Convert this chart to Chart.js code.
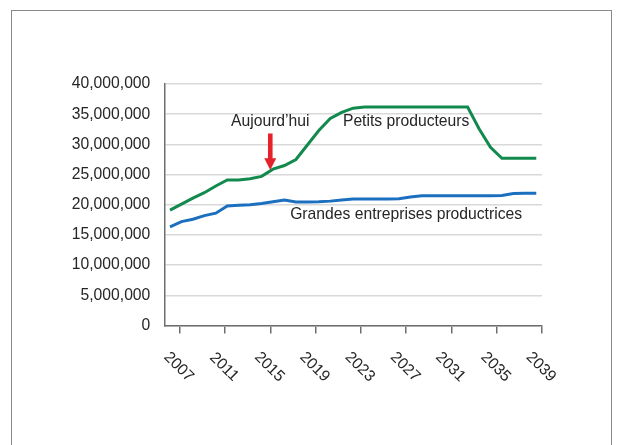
<!DOCTYPE html>
<html><head><meta charset="utf-8">
<script src="https://cdn.jsdelivr.net/npm/chart.js@4.4.1/dist/chart.umd.min.js"></script>
<style>
html,body{margin:0;padding:0;background:#fff;}
#wrap{position:relative;width:617px;height:445px;overflow:hidden;}
#frame{position:absolute;left:11px;top:10px;width:601px;height:460px;border:1.5px solid #8a8a8a;box-sizing:border-box;pointer-events:none;}
canvas{position:absolute;left:0;top:0;}
</style></head>
<body><div id="wrap"><canvas id="c" width="617" height="445"></canvas><div id="frame"></div></div>
<script>
// Categories (one point per year)
const years = ['2006','2007','2008','2009','2010','2011','2012','2013','2014','2015','2016',
  '2017','2018','2019','2020','2021','2022','2023','2024','2025','2026','2027','2028',
  '2029','2030','2031','2032','2033','2034','2035','2036','2037','2038'];
// Axis tick labels
const tickYears = [2007, 2011, 2015, 2019, 2023, 2027, 2031, 2035, 2039];
// Series values
const petitsProducteurs = [19100000,20100000,21100000,22000000,23100000,24100000,24100000,24300000,
  24700000,25900000,26500000,27500000,29900000,32300000,34300000,35300000,36000000,36200000,
  36200000,36200000,36200000,36200000,36200000,36200000,36200000,36200000,36200000,32600000,
  29500000,27700000,27700000,27700000,27700000];
const grandesEntreprises = [16350000,17200000,17600000,18200000,18600000,19800000,19900000,20000000,
  20200000,20500000,20800000,20450000,20450000,20500000,20600000,20800000,20950000,20950000,
  20950000,20950000,21000000,21300000,21500000,21500000,21500000,21500000,21500000,21500000,
  21500000,21550000,21850000,21900000,21900000];
// Annotations (anchored in data units)
const noteTexts = ['Aujourd\u2019hui', 'Petits producteurs', 'Grandes entreprises productrices'];
const noteYears = [2015, 2027, 2027];
const noteValues = [33000000, 33000000, 17600000];
const arrowYear = 2015;
const arrowFrom = 31800000, arrowHead = 27700000, arrowTo = 25750000;

const FONT = '"Liberation Sans", Arial, sans-serif';
const FS = 15.7;
const TEXT = '#262626';
const AXIS = '#6e6e6e';
const GREEN = '#128a4e';
const BLUE = '#1b6fbf';
const RED = '#e52229';

const overlay = {
  id: 'overlay',
  afterDraw(chart) {
    const ctx = chart.ctx, x = chart.scales.x, y = chart.scales.y;
    ctx.save();
    ctx.font = FS + 'px ' + FONT;
    ctx.fillStyle = TEXT;
    // rotated x tick labels
    tickYears.forEach(v => {
      const px = x.getPixelForValue(v);
      ctx.save();
      ctx.translate(px - 1, 367);
      ctx.rotate(Math.PI / 4);
      ctx.textAlign = 'center';
      ctx.textBaseline = 'middle';
      ctx.fillText(String(v), 0, 0);
      ctx.restore();
    });
    // text notes
    ctx.textAlign = 'center';
    ctx.textBaseline = 'alphabetic';
    noteTexts.forEach((t, i) => {
      ctx.fillText(t, x.getPixelForValue(noteYears[i]), y.getPixelForValue(noteValues[i]));
    });
    // arrow
    const ax = x.getPixelForValue(arrowYear);
    const y0 = y.getPixelForValue(arrowFrom), yh = y.getPixelForValue(arrowHead), y1 = y.getPixelForValue(arrowTo);
    ctx.fillStyle = RED;
    ctx.beginPath();
    ctx.moveTo(ax - 2.3, y0);
    ctx.lineTo(ax + 2.3, y0);
    ctx.lineTo(ax + 2.3, yh);
    ctx.lineTo(ax + 6, yh);
    ctx.lineTo(ax, y1);
    ctx.lineTo(ax - 6, yh);
    ctx.lineTo(ax - 2.3, yh);
    ctx.closePath();
    ctx.fill();
    ctx.restore();
  }
};

new Chart(document.getElementById('c'), {
  type: 'line',
  data: {
    labels: years,
    datasets: [
      { label: 'Petits producteurs', data: petitsProducteurs, xAxisID: 'xc', borderColor: GREEN,
        borderWidth: 3, pointRadius: 0, tension: 0, fill: false },
      { label: 'Grandes entreprises productrices', data: grandesEntreprises, xAxisID: 'xc', borderColor: BLUE,
        borderWidth: 3, pointRadius: 0, tension: 0, fill: false }
    ]
  },
  options: {
    responsive: false,
    animation: false,
    layout: { padding: { left: 0, top: 84, right: 75, bottom: 0 } },
    plugins: { legend: { display: false }, tooltip: { enabled: false } },
    scales: {
      xc: { type: 'category', position: 'bottom', display: false, offset: true },
      x: {
        type: 'linear', position: 'bottom', min: 2005.64, max: 2039,
        afterBuildTicks: s => { s.ticks = tickYears.map(v => ({ value: v })); },
        afterFit: s => { s.height = 445 - 325.5; },
        grid: { drawOnChartArea: false, drawTicks: true, tickLength: 8, color: AXIS, lineWidth: 1.5 },
        border: { display: true, color: AXIS, width: 1.5 },
        ticks: { display: false }
      },
      y: {
        min: 0, max: 40000000,
        afterFit: s => { s.width = 164.3; },
        ticks: { stepSize: 5000000, padding: 14, color: TEXT, font: { family: FONT, size: FS },
          callback: v => Number(v).toLocaleString('en-US') },
        grid: { color: '#d9d9d9', lineWidth: 1.5, drawTicks: false },
        border: { display: true, color: AXIS, width: 1.5 }
      }
    }
  },
  plugins: [overlay]
});
</script>
</body></html>
